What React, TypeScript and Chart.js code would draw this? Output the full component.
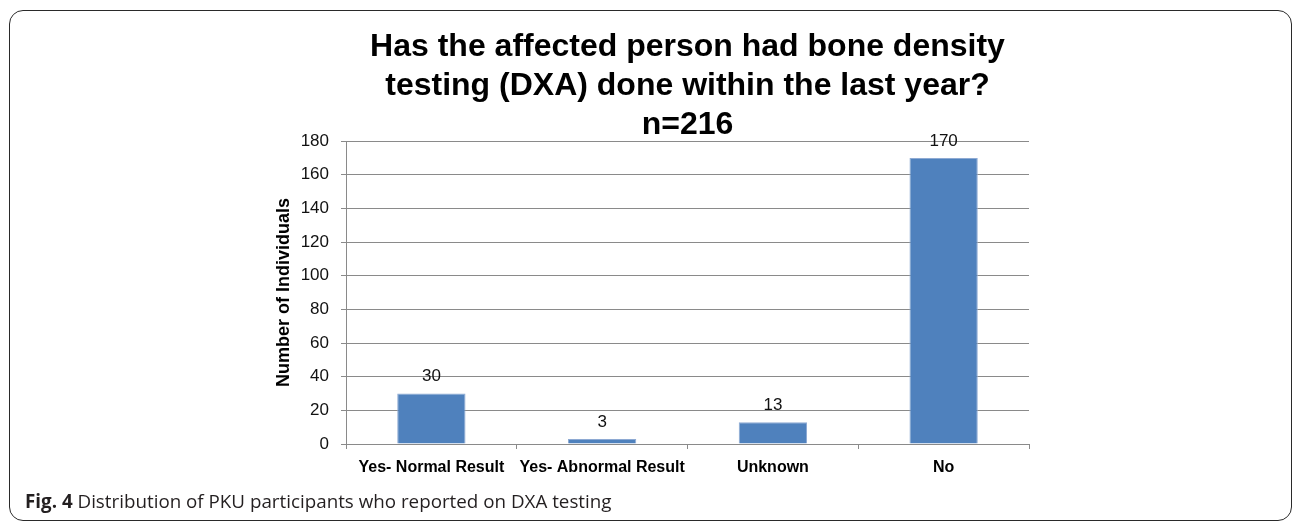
import { useEffect, useRef } from "react";
import { Chart, registerables } from "chart.js";

Chart.register(...registerables);

const categories = ["Yes- Normal Result", "Yes- Abnormal Result", "Unknown", "No"];
const counts = [30, 3, 13, 170];
const titleLines = [
  "Has the affected person had bone density",
  "testing (DXA) done within the last year?",
  "n=216",
];
const yAxisTitle = "Number of Individuals";
const yMin = 0;
const yMax = 180;
const yStep = 20;
const captionBold = "Fig. 4";
const captionText = " Distribution of PKU participants who reported on DXA testing";

const FONT = "'Liberation Sans', Arial, Helvetica, sans-serif";
const GRID = "#8a8a8a";

const valueLabels = {
  id: "valueLabels",
  afterDatasetsDraw(chart: any) {
    const ctx = chart.ctx;
    const meta = chart.getDatasetMeta(0);
    ctx.save();
    ctx.font = `17px ${FONT}`;
    ctx.fillStyle = "#111";
    ctx.textAlign = "center";
    ctx.textBaseline = "middle";
    meta.data.forEach((bar: any, i: number) => {
      ctx.fillText(String(counts[i]), bar.x, bar.y - 17);
    });
    ctx.restore();
  },
};

export default function App() {
  const ref = useRef<HTMLCanvasElement | null>(null);

  useEffect(() => {
    if (!ref.current) return;
    const chart = new Chart(ref.current, {
      type: "bar",
      data: {
        labels: categories,
        datasets: [
          {
            data: counts,
            backgroundColor: "#4f81bd",
            borderColor: "#8eaad3",
            borderWidth: 1,
            barPercentage: 0.4,
            categoryPercentage: 1,
          },
        ],
      },
      plugins: [valueLabels],
      options: {
        responsive: false,
        animation: false,
        devicePixelRatio: 1,
        layout: { padding: { left: 270, right: 264, top: 0, bottom: 37 } },
        plugins: {
          legend: { display: false },
          tooltip: { enabled: false },
          title: {
            display: true,
            fullSize: false,
            text: titleLines,
            color: "#000",
            font: { family: FONT, size: 32, weight: "bold", lineHeight: 1.22 },
            padding: { top: 28, bottom: -4 },
          },
        },
        scales: {
          x: {
            afterFit: (s: any) => {
              s.height = 40;
            },
            grid: {
              drawOnChartArea: false,
              offset: true,
              tickLength: 5,
              color: GRID,
            },
            border: { color: GRID },
            ticks: {
              color: "#000",
              padding: 9,
              maxRotation: 0,
              minRotation: 0,
              autoSkip: false,
              font: { family: FONT, size: 16, weight: "bold" },
            },
          },
          y: {
            min: yMin,
            max: yMax,
            afterFit: (s: any) => {
              s.width = 76;
            },
            grid: { color: GRID, tickLength: 5 },
            border: { color: GRID },
            ticks: {
              stepSize: yStep,
              color: "#111",
              padding: 12,
              font: { family: FONT, size: 17 },
            },
            title: {
              display: true,
              text: yAxisTitle,
              color: "#000",
              font: { family: FONT, size: 18, weight: "bold" },
              padding: { top: 3, bottom: 4 },
            },
          },
        },
      },
    });
    return () => chart.destroy();
  }, []);

  return (
    <div style={{ position: "absolute", left: 0, top: 0, width: 1293, height: 521, overflow: "hidden", background: "#fff" }}>
      <div
        style={{
          position: "absolute",
          left: 9,
          top: 10,
          width: 1283,
          height: 511,
          boxSizing: "border-box",
          border: "1.5px solid #2a2a2a",
          borderRadius: 14,
        }}
      />
      <canvas ref={ref} width={1293} height={521} style={{ position: "absolute", left: 0, top: 0 }} />
      <div
        style={{
          position: "absolute",
          left: 25,
          top: 488,
          fontFamily: "'Open Sans', sans-serif",
          fontSize: 18.8,
          color: "#231f20",
          whiteSpace: "nowrap",
        }}
      >
        <b>{captionBold}</b>
        {captionText}
      </div>
    </div>
  );
}
